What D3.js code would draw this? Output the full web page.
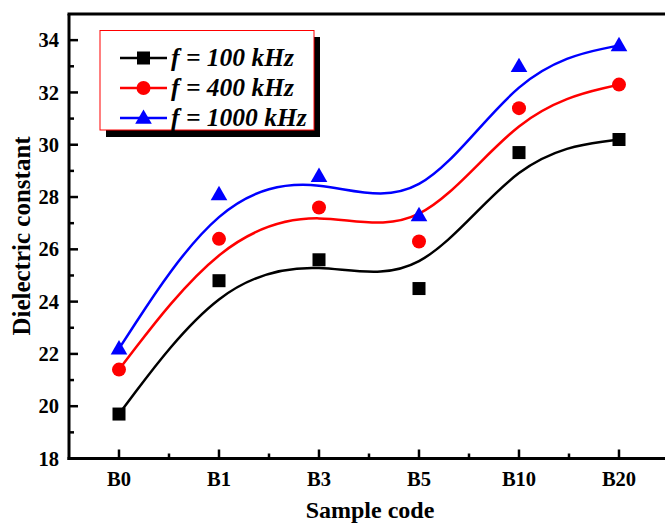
<!DOCTYPE html>
<html>
<head>
<meta charset="utf-8">
<script src="https://cdn.jsdelivr.net/npm/d3@7"></script>
<style>
html,body{margin:0;padding:0;background:#fff;}
svg{display:block;}
text{font-family:"Liberation Serif","Times New Roman",serif;font-weight:bold;}
</style>
</head>
<body>
<script>
const categories = ["B0","B1","B3","B5","B10","B20"];
const f100 = [19.7, 24.8, 25.6, 24.5, 29.7, 30.2];
const f400 = [21.4, 26.4, 27.6, 26.3, 31.4, 32.3];
const f1000 = [22.2, 28.1, 28.8, 27.3, 33.0, 33.8];
const seriesNames = ["100 kHz","400 kHz","1000 kHz"];
const yTicks = [18,20,22,24,26,28,30,32,34];

(function(){
const W = 665, H = 525;
const svg = d3.select("body").append("svg").attr("width",W).attr("height",H);

const pL = 69, pT = 14, pB = 458.5, pR = 669;
const x = d3.scalePoint().domain(categories).range([pL, pR]).padding(0.5);
const y = d3.scaleLinear().domain([18,35]).range([pB, pT]);

const series = [
  {name: seriesNames[0], vals: f100, color: "#000000", shape: "square"},
  {name: seriesNames[1], vals: f400, color: "#ff0000", shape: "circle"},
  {name: seriesNames[2], vals: f1000, color: "#0000ff", shape: "triangle"}
];

const g = svg.append("g");
const minorY = d3.range(19,35,2);
g.selectAll(".my").data(minorY).enter().append("line")
  .attr("x1", pL).attr("x2", pL+5).attr("y1", d=>y(d)).attr("y2", d=>y(d))
  .attr("stroke","#000").attr("stroke-width",2.5);
g.selectAll(".My").data(yTicks).enter().append("line")
  .attr("x1", pL).attr("x2", pL+9).attr("y1", d=>y(d)).attr("y2", d=>y(d))
  .attr("stroke","#000").attr("stroke-width",2.5);
g.selectAll(".yl").data(yTicks).enter().append("text")
  .attr("x", pL-10).attr("y", d=>y(d)).attr("dy","0.35em")
  .attr("text-anchor","end").attr("font-size",20.5).text(d=>d);

const step = x.step();
g.selectAll(".Mx").data(categories).enter().append("line")
  .attr("x1", d=>x(d)).attr("x2", d=>x(d)).attr("y1", pB).attr("y2", pB-9)
  .attr("stroke","#000").attr("stroke-width",2.5);
g.selectAll(".mx").data(categories).enter().append("line")
  .attr("x1", d=>x(d)+step/2).attr("x2", d=>x(d)+step/2).attr("y1", pB).attr("y2", pB-5)
  .attr("stroke","#000").attr("stroke-width",2.5);
g.selectAll(".xl").data(categories).enter().append("text")
  .attr("x", d=>x(d)).attr("y", pB+27)
  .attr("text-anchor","middle").attr("font-size",20.5).text(d=>d);

g.append("line").attr("x1",pL).attr("x2",pL).attr("y1",pT).attr("y2",pB+1.5)
  .attr("stroke","#000").attr("stroke-width",3);
g.append("line").attr("x1",pL-1.5).attr("x2",W).attr("y1",pB).attr("y2",pB)
  .attr("stroke","#000").attr("stroke-width",3);
g.append("line").attr("x1",pL-1.5).attr("x2",W).attr("y1",pT).attr("y2",pT)
  .attr("stroke","#000").attr("stroke-width",3);

svg.append("text").attr("x", 370).attr("y", 518).attr("text-anchor","middle")
  .attr("font-size",24).text("Sample code");
svg.append("text").attr("transform","translate(30,236) rotate(-90)")
  .attr("text-anchor","middle").attr("font-size",25).text("Dielectric constant");

const line = d3.line().x((d,i)=>x(categories[i])).y(d=>y(d)).curve(d3.curveBasis);
series.forEach(s=>{
  svg.append("path").attr("d", line(s.vals)).attr("fill","none")
    .attr("stroke", s.color).attr("stroke-width",2.5);
});

function drawMarker(sel, shape, color, cx, cy){
  if(shape==="square"){
    sel.append("rect").attr("x",cx-6.5).attr("y",cy-6.5).attr("width",13).attr("height",13).attr("fill",color);
  } else if(shape==="circle"){
    sel.append("circle").attr("cx",cx).attr("cy",cy).attr("r",7).attr("fill",color);
  } else {
    sel.append("path").attr("d", d3.symbol().type(d3.symbolTriangle).size(120)()).attr("transform",`translate(${cx},${cy+1})`).attr("fill",color);
  }
}
series.forEach(s=>{
  s.vals.forEach((v,i)=>drawMarker(svg, s.shape, s.color, x(categories[i]), y(v)));
});

const lg = svg.append("g");
lg.append("rect").attr("x",106).attr("y",37).attr("width",214).attr("height",100).attr("fill","#000");
lg.append("rect").attr("x",100).attr("y",30.5).attr("width",214).attr("height",99.5).attr("fill","#fff")
  .attr("stroke","#ff0000").attr("stroke-width",1);
const rowsY = [58, 88, 118];
series.forEach((s,i)=>{
  const ry = rowsY[i];
  lg.append("line").attr("x1",120).attr("x2",167).attr("y1",ry).attr("y2",ry)
    .attr("stroke",s.color).attr("stroke-width",2.5);
  drawMarker(lg, s.shape, s.color, 143.5, ry);
  const t = lg.append("text").attr("x",171).attr("y",ry).attr("dy","0.33em")
    .attr("font-size",25.5).attr("font-style","italic");
  t.append("tspan").text("f");
  t.append("tspan").text(" = " + s.name);
});
})();
</script>
</body>
</html>
